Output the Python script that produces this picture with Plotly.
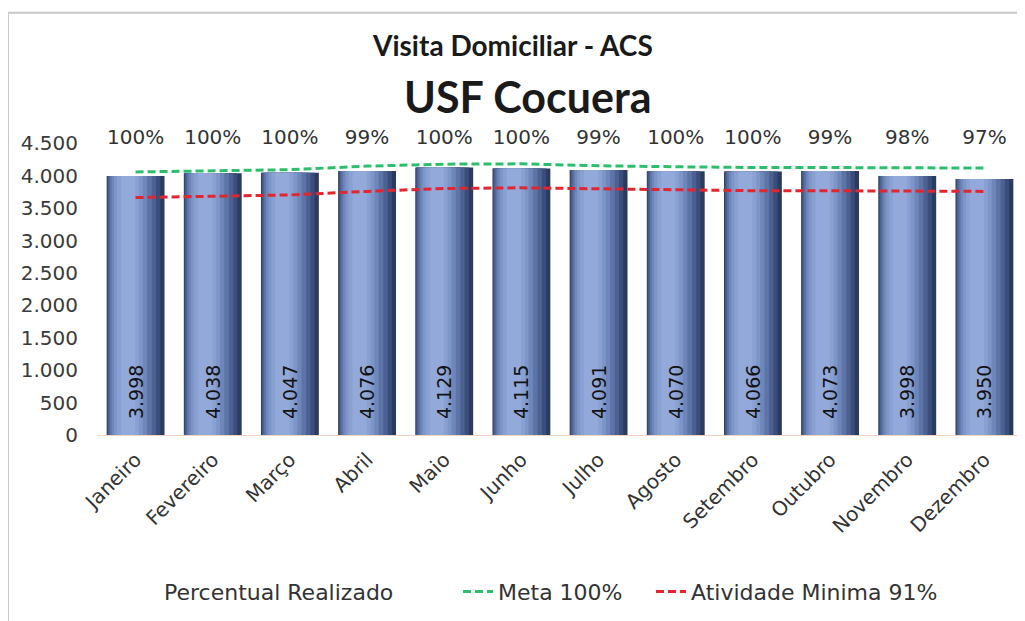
import plotly.graph_objects as go

MONTHS = ["Janeiro", "Fevereiro", "Março", "Abril", "Maio", "Junho",
          "Julho", "Agosto", "Setembro", "Outubro", "Novembro", "Dezembro"]
REALIZADO = [3998, 4038, 4047, 4076, 4129, 4115, 4091, 4070, 4066, 4073, 3998, 3950]
META = [4060, 4080, 4095, 4150, 4180, 4185, 4155, 4140, 4128, 4128, 4120, 4120]
MINIMA = [3665, 3690, 3705, 3760, 3805, 3815, 3800, 3785, 3770, 3770, 3765, 3760]
PERCENT = ["100%", "100%", "100%", "99%", "100%", "100%", "99%", "100%", "100%", "99%", "98%", "97%"]
Y_TICKS = [0, 500, 1000, 1500, 2000, 2500, 3000, 3500, 4000, 4500]
Y_MAX_TICK = 4500
Y_RANGE_TOP = 4800
LABEL_LEVEL = 4570
TEXT_BASE = 200

TFONT = "Lato, 'Open Sans', sans-serif"
FONT = "'DejaVu Sans', Verdana, sans-serif"

# page offset of the figure inside the browser body (default body margin)
OFF = 8
W, H = 1025, 621
PLOT_L, PLOT_R, PLOT_B = 97, 1023, 435
PX_PER_UNIT = (PLOT_B - 143) / Y_MAX_TICK
PLOT_T = PLOT_B - Y_RANGE_TOP * PX_PER_UNIT
pw, ph = PLOT_R - PLOT_L, PLOT_B - PLOT_T


def px(x):
    return (x - PLOT_L) / pw


def py(y):
    return (PLOT_B - y) / ph


fig = go.Figure()

# cylinder-like gradient built from overlaid bars (left edge, right edge in category units)
layers = [
    (-0.375, 0.375, "#2B3B5F"),
    (-0.368, 0.32, "#3B4E7B"),
    (-0.355, 0.265, "#4C6191"),
    (-0.335, 0.21, "#5D74A7"),
    (-0.31, 0.15, "#6E86B9"),
    (-0.28, 0.095, "#7D95C7"),
    (-0.24, 0.045, "#89A1D2"),
    (-0.19, -0.005, "#92A9D9"),
]
for x0, x1, col in layers:
    fig.add_trace(go.Bar(
        x=MONTHS, y=REALIZADO, offset=x0, width=x1 - x0,
        marker=dict(color=col, line=dict(width=0)),
        showlegend=False, hoverinfo="skip",
    ))

# value labels (transparent bar starting slightly above zero so text gets bottom padding)
fig.add_trace(go.Bar(
    x=MONTHS, y=[v - TEXT_BASE for v in REALIZADO], base=TEXT_BASE,
    offset=-0.375, width=0.75, customdata=REALIZADO,
    marker=dict(color="rgba(0,0,0,0)", line=dict(width=0)),
    texttemplate="%{customdata:,}", textposition="inside",
    insidetextanchor="start", textangle=-90,
    textfont=dict(family=FONT, size=19, color="#121212"),
    hovertemplate="%{x}: %{customdata:,}<extra></extra>",
    showlegend=False, name="Realizado",
))

# percent labels
fig.add_trace(go.Scatter(
    x=MONTHS, y=[LABEL_LEVEL] * len(MONTHS), mode="text", text=PERCENT,
    textfont=dict(family=FONT, size=20, color="#333333"),
    showlegend=False, hoverinfo="skip",
))
fig.add_trace(go.Scatter(
    x=[MONTHS[0]], y=[None], mode="lines", name="Percentual Realizado",
    line=dict(width=0, color="rgba(0,0,0,0)"), legend="legend",
))

fig.add_trace(go.Scatter(
    x=MONTHS, y=META, mode="lines", name="Meta 100%",
    line=dict(color="#2DBE6C", width=3, dash="8px,4px"), legend="legend2",
))
fig.add_trace(go.Scatter(
    x=MONTHS, y=MINIMA, mode="lines", name="Atividade Minima 91%",
    line=dict(color="#E3262E", width=3, dash="8px,4px"), legend="legend3",
))

LEG_FONT = dict(family=FONT, size=22, color="#333333")


def leg(left_px):
    return dict(orientation="h", x=px(left_px), xanchor="left", y=py(592), yanchor="middle",
                font=LEG_FONT, itemwidth=30, bgcolor="rgba(0,0,0,0)")


fig.update_layout(
    width=W - OFF, height=H - OFF,
    margin=dict(l=PLOT_L - OFF, r=W - PLOT_R, t=round(PLOT_T) - OFF, b=H - PLOT_B, autoexpand=False),
    paper_bgcolor="white", plot_bgcolor="white",
    barmode="overlay",
    separators=",.",
    font=dict(family=FONT, color="#333333"),
    xaxis=dict(
        type="category", range=[-0.5, len(MONTHS) - 0.5], tickangle=-45, showgrid=False,
        tickfont=dict(family=FONT, size=20, color="#333333"),
        showline=True, linecolor="#F0D2C2", linewidth=1,
        ticks="outside", ticklen=4, tickcolor="rgba(0,0,0,0)",
    ),
    yaxis=dict(
        range=[0, Y_RANGE_TOP], tickvals=Y_TICKS, tickformat=",d", showgrid=False,
        tickfont=dict(family=FONT, size=20, color="#3A3A3A"),
        showline=False, ticks="outside", ticklen=14, tickcolor="rgba(0,0,0,0)",
        zeroline=False,
    ),
    legend=leg(124),
    legend2=leg(458),
    legend3=leg(651),
    annotations=[
        dict(text="<b>Visita Domiciliar - ACS</b>", x=px(512), y=py(44),
             xref="paper", yref="paper", showarrow=False, yanchor="middle",
             font=dict(family=TFONT, size=28, color="#1A1A1A")),
        dict(text="<b>USF Cocuera</b>", x=px(528), y=py(96),
             xref="paper", yref="paper", showarrow=False, yanchor="middle",
             font=dict(family=TFONT, size=43, color="#1A1A1A")),
    ],
    shapes=[
        dict(type="rect", xref="paper", yref="paper",
             x0=px(8), x1=px(W + 20), y0=py(H + 20), y1=py(12),
             line=dict(color="#C8C8C8", width=2), layer="below"),
    ],
)

fig.write_html("out.html")
